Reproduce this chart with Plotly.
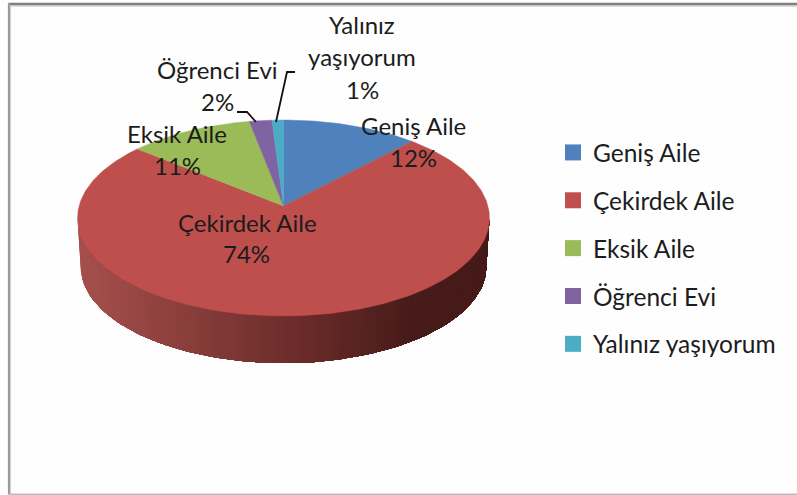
import numpy as np
import plotly.graph_objects as go

categories = ['Geniş Aile', 'Çekirdek Aile', 'Eksik Aile', 'Öğrenci Evi', 'Yalınız yaşıyorum']
values = [12, 74, 11, 2, 1]
colours = ['#4F81BD', '#BE4F4C', '#9BBB59', '#8064A2', '#4BACC6']
legend_colours = ['#4F81BD', '#C0504D', '#9BBB59', '#8064A2', '#4BACC6']

# pie geometry in page pixels, the perspective term k makes the far side smaller
APEX_X, APEX_Y = 283.5, 206
A, B, K = 204.4, 96.5, 0.1224
DEPTH = 49
FONT = 'Lato'
TEXT = '#1c1c1c'


def project(theta, depth=0.0, radius=1.0):
    """theta is measured clockwise from the far side of the pie."""
    u = radius * np.sin(theta)
    v = -radius * np.cos(theta)
    d = 1 - K * v
    return APEX_X + A * u / d, APEX_Y + B * v / d + depth


def lerp_colour(t):
    stops = [(0.0, (166, 80, 77)), (0.5, (110, 46, 44)), (0.8, (72, 28, 26)), (1.0, (70, 26, 24))]
    for (t0, c0), (t1, c1) in zip(stops, stops[1:]):
        if t <= t1:
            f = (t - t0) / (t1 - t0)
            return 'rgb(%d,%d,%d)' % tuple(c0[i] + f * (c1[i] - c0[i]) for i in range(3))
    return 'rgb(70,26,24)'


fig = go.Figure()

# side wall of the disc, only the near half shows. each strip runs on to the far
# end of the wall so there are no seams between them
wall_angles = np.radians(np.linspace(262, 98, 83))
for a0 in wall_angles[:-1]:
    tt = wall_angles[wall_angles <= a0]
    xt, yt = project(tt)
    xb, yb = project(tt[::-1], DEPTH, 0.985)
    xm = project(a0)[0]
    fig.add_trace(go.Scatter(
        x=np.r_[xt, xb], y=np.r_[yt, yb],
        mode='lines', fill='toself',
        fillcolor=lerp_colour((xm - 77) / 413),
        line=dict(width=0),
        hoverinfo='skip', showlegend=False
    ))

# top face, slices run clockwise from the far side
total = sum(values)
start = 0.0
for name, val, col in zip(categories, values, colours):
    stop = start + val / total * 2 * np.pi
    tt = np.linspace(start, stop, max(int(val * 4), 8))
    xs, ys = project(tt)
    fig.add_trace(go.Scatter(
        x=np.r_[APEX_X, xs, APEX_X], y=np.r_[APEX_Y, ys, APEX_Y],
        mode='lines', fill='toself', fillcolor=col,
        line=dict(color=col, width=0.5),
        name=name, text=f'{name}: {val}%', hoverinfo='text', showlegend=False
    ))
    start = stop

# legend only traces
for name, col in zip(categories, legend_colours):
    fig.add_trace(go.Scatter(
        x=[None], y=[None], mode='markers', name=name, legendgroup=name,
        marker=dict(symbol='square', size=16, color=col)
    ))

# leader lines
fig.add_trace(go.Scatter(
    x=[237, 247, 256, None, 276, 287, 295], y=[112, 112, 122, None, 122, 72, 72],
    mode='lines', line=dict(color='#111111', width=1.8), hoverinfo='skip', showlegend=False
))

label_lines = [
    ('Geniş Aile', 413, 125), ('12%', 413, 157),
    ('Çekirdek Aile', 247, 222), ('74%', 246, 253),
    ('Eksik Aile', 177, 133), ('11%', 177, 165),
    ('Öğrenci Evi', 217, 69), ('2%', 217, 101),
    ('Yalınız', 362, 24), ('yaşıyorum', 362, 56), ('1%', 362, 89),
]
for txt, lx, ly in label_lines:
    fig.add_annotation(x=lx, y=ly, text=txt, showarrow=False,
                       font=dict(family=FONT, size=24, color=TEXT))

frame = [
    (8, 4, 797, 4, '#808080', 2.5), (9, 5.8, 797, 5.8, '#BDBDBD', 1.2),
    (9, 3, 9, 494, '#9A9A9A', 2.2), (10.6, 5, 10.6, 494, '#D0D0D0', 1),
    (8, 494.5, 797, 494.5, '#BBBBBB', 2),
]

fig.update_layout(
    width=797, height=495,
    margin=dict(l=0, r=0, t=0, b=0),
    paper_bgcolor='#FEFEFE', plot_bgcolor='#FEFEFE',
    xaxis=dict(range=[0, 797], visible=False, fixedrange=True),
    yaxis=dict(range=[495, 0], visible=False, fixedrange=True),
    showlegend=True,
    legend=dict(x=553 / 797, y=1 - 130 / 495, xanchor='left', yanchor='top',
                font=dict(family=FONT, size=24.5, color=TEXT),
                tracegroupgap=13, bgcolor='rgba(0,0,0,0)'),
    shapes=[dict(type='line', xref='x', yref='y', x0=x0, y0=y0, x1=x1, y1=y1,
                 layer='below', line=dict(color=c, width=w))
            for x0, y0, x1, y1, c, w in frame]
)

# browser default body margin would push the chart 8px in
fig.write_html("out.html", config={'displayModeBar': False},
               post_script="document.body.style.margin='0';")
